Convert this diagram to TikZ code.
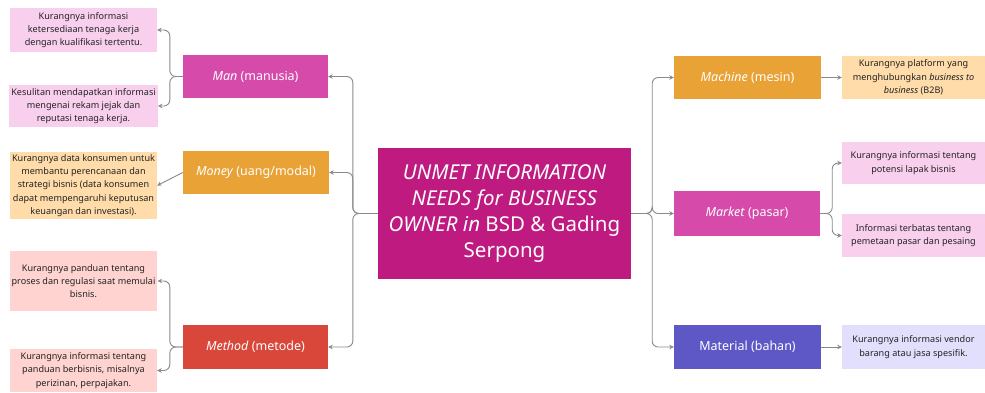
\documentclass[tikz,border=0pt]{standalone}
\usepackage{fontspec}
\setmainfont{Noto Sans}
\usepackage{xcolor}
\usepackage{tikz}
\usetikzlibrary{arrows.meta}

\definecolor{akar}{HTML}{BE1A80}
\definecolor{merah muda}{HTML}{D64AAA}
\definecolor{jingga}{HTML}{E9A236}
\definecolor{merah}{HTML}{D8473A}
\definecolor{ungu}{HTML}{5E58C6}
\definecolor{pinkmuda}{HTML}{F9CFEE}
\definecolor{jinggamuda}{HTML}{FFDCA9}
\definecolor{merahmuda}{HTML}{FFD3D0}
\definecolor{ungumuda}{HTML}{E2DFFD}
\definecolor{garis}{HTML}{8A8A8A}
\definecolor{teks}{HTML}{222222}

\begin{document}
\begin{tikzpicture}[x=1pt,y=-1pt,
    kepala/.style={rectangle,inner sep=2pt,text=white,align=center,
      font=\fontsize{12.5}{15}\selectfont},
    isi/.style={rectangle,inner sep=2pt,text=teks,align=center,
      font=\fontsize{9.1}{13.3}\selectfont},
    link/.style={draw=garis,line width=0.9pt,rounded corners=6pt,
      -{Stealth[length=4.5pt,width=4.5pt]}}]
  \useasboundingbox (0,0) rectangle (985,392);

  % pusat
  \node[kepala,fill=akar,minimum width=253,minimum height=131,
    font=\fontsize{20.5}{26}\selectfont] (root) at (504.5,213.5)
    {\textit{UNMET INFORMATION}\\ \textit{NEEDS for BUSINESS}\\
     \textit{OWNER in} BSD \& Gading\\ Serpong};

  % kiri
  \node[kepala,fill=merah muda,minimum width=145,minimum height=43] (man) at (255.5,76.5)
    {\textit{Man} (manusia)};
  \node[kepala,fill=jingga,minimum width=146,minimum height=43] (money) at (256,172.5)
    {\textit{Money} (uang/modal)};
  \node[kepala,fill=merah,minimum width=145,minimum height=44] (method) at (255.5,347)
    {\textit{Method} (metode)};

  \node[isi,fill=pinkmuda,minimum width=147,minimum height=44] (manA) at (83.5,30)
    {Kurangnya informasi\\ ketersediaan tenaga kerja\\ dengan kualifikasi tertentu.};
  \node[isi,fill=pinkmuda,minimum width=147,minimum height=42] (manB) at (83.5,106)
    {Kesulitan mendapatkan informasi\\ mengenai rekam jejak dan\\ reputasi tenaga kerja.};
  \node[isi,fill=jinggamuda,minimum width=147,minimum height=67] (moneyA) at (83.5,185.5)
    {Kurangnya data konsumen untuk\\ membantu perencanaan dan\\ strategi bisnis (data konsumen\\
     dapat mempengaruhi keputusan\\ keuangan dan investasi).};
  \node[isi,fill=merahmuda,minimum width=147,minimum height=60] (methodA) at (83.5,281)
    {Kurangnya panduan tentang\\ proses dan regulasi saat memulai\\ bisnis.};
  \node[isi,fill=merahmuda,minimum width=147,minimum height=43] (methodB) at (83.5,370.5)
    {Kurangnya informasi tentang\\ panduan berbisnis, misalnya\\ perizinan, perpajakan.};

  % kanan
  \node[kepala,fill=jingga,minimum width=147,minimum height=43] (machine) at (747.5,77.5)
    {\textit{Machine} (mesin)};
  \node[kepala,fill=merah muda,minimum width=146,minimum height=45] (market) at (747,213.5)
    {\textit{Market} (pasar)};
  \node[kepala,fill=ungu,minimum width=147,minimum height=44] (material) at (747.5,347)
    {Material (bahan)};

  \node[isi,fill=jinggamuda,minimum width=143,minimum height=43] (machineA) at (913.5,77.5)
    {Kurangnya platform yang\\ menghubungkan \textit{business to}\\ \textit{business} (B2B)};
  \node[isi,fill=pinkmuda,minimum width=143,minimum height=42] (marketA) at (913.5,163)
    {Kurangnya informasi tentang\\ potensi lapak bisnis};
  \node[isi,fill=pinkmuda,minimum width=143,minimum height=43] (marketB) at (913.5,235.5)
    {Informasi terbatas tentang\\ pemetaan pasar dan pesaing};
  \node[isi,fill=ungumuda,minimum width=143,minimum height=44] (materialA) at (913.5,347)
    {Kurangnya informasi vendor\\ barang atau jasa spesifik.};

  % cabang utama
  \draw[link] (root.west) -- ++(-25,0) |- (man.east);
  \draw[link] (root.west) -- ++(-25,0) |- (money.east);
  \draw[link] (root.west) -- ++(-25,0) |- (method.east);
  \draw[link] (root.east) -- ++(21,0) |- (machine.west);
  \draw[link] (root.east) -- ++(21,0) |- (market.west);
  \draw[link] (root.east) -- ++(21,0) |- (material.west);

  % cabang kecil
  \draw[link] (man.west) -- ++(-13,0) |- (manA.east);
  \draw[link] (man.west) -- ++(-13,0) |- (manB.east);
  \draw[link] (money.west) -- (moneyA.east);
  \draw[link] (method.west) -- ++(-13,0) |- (methodA.east);
  \draw[link] (method.west) -- ++(-13,0) |- (methodB.east);
  \draw[link] (machine.east) -- (machineA.west);
  \draw[link] (market.east) -- ++(12,0) |- (marketA.west);
  \draw[link] (market.east) -- ++(12,0) |- (marketB.west);
  \draw[link] (material.east) -- (materialA.west);
\end{tikzpicture}
\end{document}
